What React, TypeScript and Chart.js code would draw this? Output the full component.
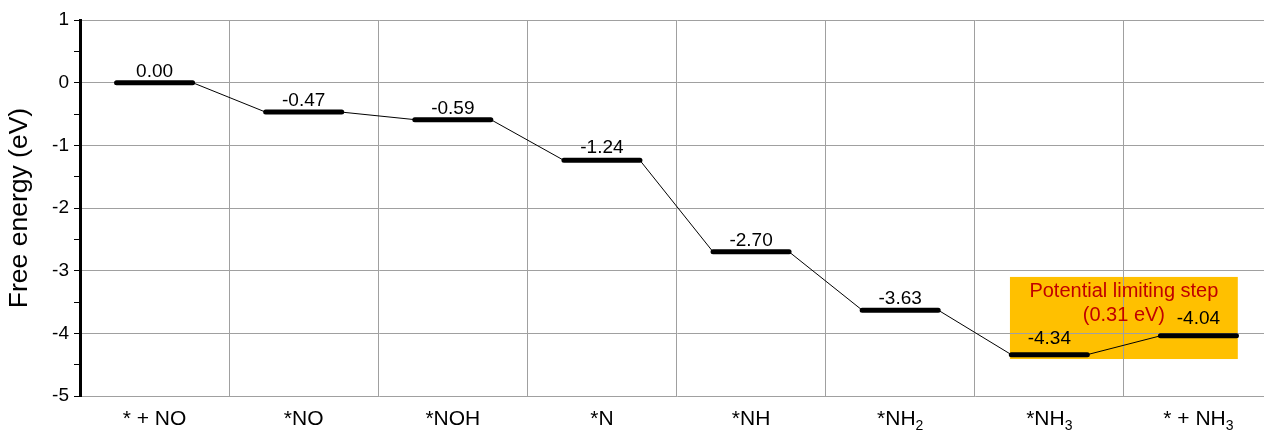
import React, { useEffect, useRef } from "react";
import { Chart, registerables } from "chart.js";

Chart.register(...registerables);

const categories = ["* + NO", "*NO", "*NOH", "*N", "*NH", "*NH₂", "*NH₃", "* + NH₃"];
const energies = [0.0, -0.47, -0.59, -1.24, -2.7, -3.63, -4.34, -4.04];
const yTickValues = [-5, -4, -3, -2, -1, 0, 1];
const highlightXRange = [6.236, 7.764];
const highlightYRange = [-3.1, -4.41];
const highlightLines = ["Potential limiting step", "(0.31 eV)"];
const highlightLineY = [-3.34, -3.71];

const FONT = '"Liberation Sans", Arial, sans-serif';
const LEVEL_HALF = 0.255;
const LABEL_LIFT = [6, 6, 6, 7, 6, 6, 11, 12];
const SUBS: Record<string, string> = { "₂": "2", "₃": "3" };

export default function App() {
  const ref = useRef<HTMLCanvasElement | null>(null);

  useEffect(() => {
    if (!ref.current) return;
    Chart.defaults.font.family = FONT;
    Chart.defaults.color = "#000";

    const levelPts: any[] = [];
    energies.forEach((v, i) => {
      levelPts.push({ x: i + 0.5 - LEVEL_HALF, y: v });
      levelPts.push({ x: i + 0.5 + LEVEL_HALF, y: v });
      if (i < energies.length - 1) levelPts.push({ x: i + 1, y: null });
    });
    const connPts: any[] = [];
    for (let i = 0; i < energies.length - 1; i++) {
      connPts.push({ x: i + 0.5 + LEVEL_HALF, y: energies[i] });
      connPts.push({ x: i + 1.5 - LEVEL_HALF, y: energies[i + 1] });
      if (i < energies.length - 2) connPts.push({ x: i + 1.5, y: null });
    }

    const boxPlugin = {
      id: "highlightBox",
      beforeDraw(chart: any) {
        const { ctx, scales } = chart;
        const xl = scales.xl, y = scales.y;
        const x0 = xl.getPixelForValue(highlightXRange[0]);
        const x1 = xl.getPixelForValue(highlightXRange[1]);
        const y0 = y.getPixelForValue(highlightYRange[0]);
        const y1 = y.getPixelForValue(highlightYRange[1]);
        ctx.save();
        ctx.fillStyle = "#FFC000";
        ctx.fillRect(x0, y0, x1 - x0, y1 - y0);
        ctx.restore();
      },
      afterDatasetsDraw(chart: any) {
        const { ctx, scales } = chart;
        const xl = scales.xl, y = scales.y;
        ctx.save();
        ctx.font = `19px ${FONT}`;
        ctx.textAlign = "center";
        ctx.textBaseline = "alphabetic";
        ctx.fillStyle = "#000";
        energies.forEach((v, i) => {
          ctx.fillText(v.toFixed(2), xl.getPixelForValue(i + 0.5), y.getPixelForValue(v) - LABEL_LIFT[i]);
        });
        ctx.fillStyle = "#C00000";
        ctx.textBaseline = "middle";
        ctx.font = `20px ${FONT}`;
        const cx = xl.getPixelForValue((highlightXRange[0] + highlightXRange[1]) / 2);
        highlightLines.forEach((t, k) => {
          ctx.fillText(t, cx, y.getPixelForValue(highlightLineY[k]));
        });

        // category labels with true subscripts
        const baseY = chart.chartArea.bottom + 29;
        ctx.fillStyle = "#000";
        ctx.textAlign = "left";
        ctx.textBaseline = "alphabetic";
        categories.forEach((label, i) => {
          const parts: { t: string; sub: boolean }[] = [];
          for (const ch of label) {
            const sub = ch in SUBS;
            const c = sub ? SUBS[ch] : ch;
            const last = parts[parts.length - 1];
            if (last && last.sub === sub) last.t += c;
            else parts.push({ t: c, sub });
          }
          let total = 0;
          const widths = parts.map((p) => {
            ctx.font = p.sub ? `14px ${FONT}` : `21px ${FONT}`;
            const w = ctx.measureText(p.t).width;
            total += w;
            return w;
          });
          let x = xl.getPixelForValue(i + 0.5) - total / 2;
          parts.forEach((p, k) => {
            ctx.font = p.sub ? `14px ${FONT}` : `21px ${FONT}`;
            ctx.fillText(p.t, x, p.sub ? baseY + 5 : baseY);
            x += widths[k];
          });
        });
        ctx.restore();
      },
    };

    const chart = new Chart(ref.current, {
      type: "line",
      data: {
        labels: categories,
        datasets: [
          {
            data: connPts,
            xAxisID: "xl",
            borderColor: "#000",
            borderWidth: 1,
            pointRadius: 0,
            spanGaps: false,
          },
          {
            data: levelPts,
            xAxisID: "xl",
            borderColor: "#000",
            borderWidth: 5,
            borderCapStyle: "round",
            pointRadius: 0,
            spanGaps: false,
          },
        ],
      },
      options: {
        animation: false,
        responsive: true,
        maintainAspectRatio: false,
        layout: { padding: { top: 20, left: 0, right: 0, bottom: 0 } },
        plugins: { legend: { display: false }, tooltip: { enabled: false } },
        scales: {
          x: {
            type: "category",
            offset: true,
            grid: { offset: true, color: "#a0a0a0", lineWidth: 1, drawTicks: false },
            border: { display: false },
            ticks: { font: { size: 21 }, color: "#000", padding: 9, maxRotation: 0, autoSkip: false, callback: () => "" },
            afterFit(s: any) { s.height = 36; },
          },
          xl: {
            type: "linear",
            display: false,
            min: 0,
            max: 8,
          },
          y: {
            type: "linear",
            min: -5,
            max: 1,
            afterBuildTicks(s: any) {
              const t: any[] = [];
              for (let v = -5; v <= 1.0001; v += 0.5) t.push({ value: Math.round(v * 2) / 2 });
              s.ticks = t;
            },
            ticks: {
              font: { size: 19 },
              color: "#000",
              padding: 5,
              callback: (v: any) => (yTickValues.includes(Number(v)) ? String(v) : ""),
            },
            grid: {
              color: (c: any) => (c.tick && Number.isInteger(c.tick.value) ? "#a0a0a0" : "rgba(0,0,0,0)"),
              tickColor: "#000",
              tickLength: 6,
              lineWidth: 1,
            },
            border: { display: true, color: "#000", width: 3 },
            title: { display: true, text: "Free energy (eV)", font: { size: 26.5 }, color: "#000" },
            afterFit(s: any) { s.width = 80; },
          },
        },
      },
      plugins: [boxPlugin],
    });
    return () => chart.destroy();
  }, []);

  return (
    <div style={{ position: "fixed", left: 0, top: 0, width: 1264, height: 432, overflow: "hidden", background: "#fff" }}>
      <div style={{ position: "relative", width: 1273, height: 432 }}>
        <canvas ref={ref} />
      </div>
    </div>
  );
}
